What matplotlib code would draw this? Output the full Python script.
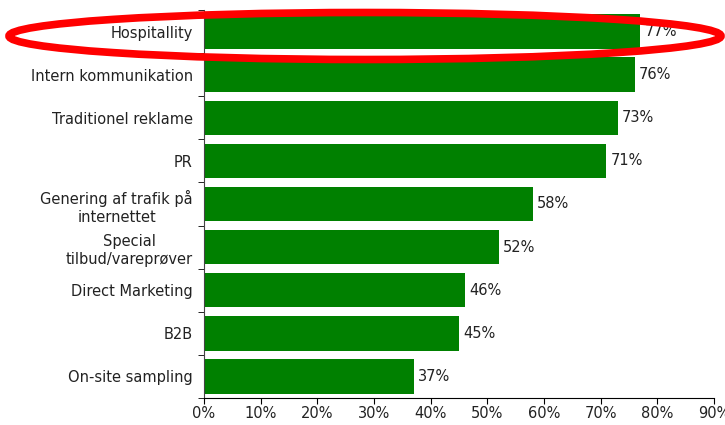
import matplotlib.pyplot as plt
from matplotlib.patches import Ellipse
from matplotlib.ticker import FuncFormatter, FixedLocator

categories = ['Hospitallity', 'Intern kommunikation', 'Traditionel reklame', 'PR',
              'Genering af trafik på\ninternettet', 'Special\ntilbud/vareprøver',
              'Direct Marketing', 'B2B', 'On-site sampling']
values = [77, 76, 73, 71, 58, 52, 46, 45, 37]

fig = plt.figure(figsize=(7.25, 4.25), dpi=100)
ax = fig.add_axes([204 / 725, 1 - 398 / 425, 510 / 725, 388 / 425])

n = len(categories)
pos = list(range(n))
ax.barh(pos, values, height=0.8, color='#008000')
ax.set_ylim(n - 0.5, -0.5)
ax.set_xlim(0, 90)

for p, v in zip(pos, values):
    ax.text(v + 0.8, p, f'{v}%', va='center', ha='left', fontsize=10.5, color='#222222')

ax.set_yticks(pos)
ax.set_yticklabels(categories, fontsize=10.5, color='#222222', linespacing=1.3)
ax.yaxis.set_minor_locator(FixedLocator([i - 0.5 for i in range(n + 1)]))
ax.tick_params(axis='y', which='major', length=0, pad=8)
ax.tick_params(axis='y', which='minor', length=4, direction='out')
for lab in ax.get_yticklabels():
    lab.set_multialignment('center')

ax.set_xticks(range(0, 91, 10))
ax.xaxis.set_major_formatter(FuncFormatter(lambda x, _: f'{x:.0f}%'))
ax.tick_params(axis='x', labelsize=10.5, length=4, direction='out', pad=2, labelcolor='#222222')

ax.spines['top'].set_visible(False)
ax.spines['right'].set_visible(False)
ax.spines['left'].set_color('#444444')
ax.spines['bottom'].set_color('black')

# red highlight around the top row
ell = Ellipse((365 / 725, 1 - 36 / 425), 712 / 725, 47 / 425, transform=fig.transFigure,
              fill=False, edgecolor='#ff0000', linewidth=5.5, clip_on=False)
fig.add_artist(ell)

fig.savefig('out.png', dpi=100)
